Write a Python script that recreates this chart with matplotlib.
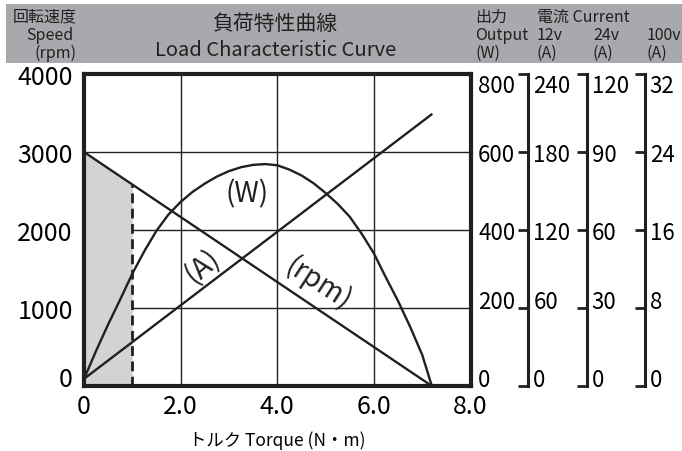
import numpy as np
import matplotlib.pyplot as plt
from matplotlib.patches import Rectangle

plt.rcParams['font.family'] = ['Noto Sans CJK JP', 'DejaVu Sans']

W, H = 682, 452

# x axis (torque, N·m)
torque_ticks = [0, 2, 4, 6, 8]
torque_labels = ['0', '2.0', '4.0', '6.0', '8.0']

# speed line (rpm)
speed_torque = [0.0, 7.2]
speed_rpm = [3000, 0]
speed_ticks = [0, 1000, 2000, 3000, 4000]

# current line, 12v amps
current_torque = [0.0, 7.19]
current_12v = [5.5, 208.8]

# output curve (W)
output_torque = [0.0, 0.25, 0.5, 0.75, 1.0, 1.25, 1.5, 1.75, 2.0, 2.25, 2.5, 2.75,
                 3.0, 3.25, 3.5, 3.75, 4.0, 4.25, 4.5, 4.75, 5.0, 5.25, 5.5, 5.75,
                 6.0, 6.25, 6.5, 6.75, 7.0, 7.2]
output_w = [18, 90, 158, 222, 288, 346, 398, 440, 472, 498, 519, 537,
            551, 561, 567, 569, 566, 555, 540, 520, 495, 467, 434, 390,
            340, 278, 218, 152, 80, 0]

# right hand scales
output_ticks = [0, 200, 400, 600, 800]
cur12_ticks = [0, 60, 120, 180, 240]
cur24_ticks = [0, 30, 60, 90, 120]
cur100_ticks = [0, 8, 16, 24, 32]

rated_torque = 1.0

rpm_per_w = 4000 / 800
rpm_per_a12 = 4000 / 240


def px(x, y):
    return x / W, 1 - y / H


fig = plt.figure(figsize=(W / 100, H / 100), dpi=100)
ax = fig.add_axes([84 / W, 1 - 387 / H, 386.5 / W, 312 / H])

# grey header band
fig.patches.append(Rectangle(px(6, 64), 676 / W, 59 / H, transform=fig.transFigure,
                             facecolor='#a7a9ac', edgecolor='none', zorder=0))

ax.set_xlim(0, 8)
ax.set_ylim(0, 4000)
ax.set_xticks(torque_ticks)
ax.set_xticklabels(torque_labels)
ax.set_yticks(speed_ticks)
ax.grid(True, color='#222222', lw=1.0)
ax.set_axisbelow(True)
ax.tick_params(length=0, labelsize=18, pad=5)
ax.tick_params(axis='y', pad=8)
for s in ax.spines.values():
    s.set_linewidth(3)
    s.set_color('#231f20')
ax.get_yticklabels()[0].set_va('baseline')

# rated torque region
t_fill = np.array([0.0, rated_torque])
rpm_fill = np.interp(t_fill, speed_torque, speed_rpm)
ax.fill_between(t_fill, 0, rpm_fill, color='#d1d3d4', lw=0, zorder=1)
ax.plot([rated_torque, rated_torque], [0, rpm_fill[1]], color='#231f20', lw=2,
        dashes=(3.5, 2), zorder=3)

lc = '#231f20'
ax.plot(speed_torque, speed_rpm, color=lc, lw=1.7, zorder=4)
ax.plot(current_torque, np.array(current_12v) * rpm_per_a12, color=lc, lw=1.7, zorder=4)
ax.plot(output_torque, np.array(output_w) * rpm_per_w, color=lc, lw=1.7, zorder=4,
        solid_joinstyle='round')

ax.text(3.38, 2470, '(W)', fontsize=20, ha='center', va='center', color=lc)
ax.text(2.45, 1540, '(A)', fontsize=20.5, ha='center', va='center', rotation=40, color=lc)
ax.text(4.85, 1320, '(rpm)', fontsize=20, ha='center', va='center', rotation=-33, color=lc)

ax.set_xlabel('トルク Torque (N・m)', fontsize=12.5, labelpad=8)


def side_axis(pos, ticks, tick_len, lw, pad):
    a = ax.twinx()
    a.set_ylim(ticks[0], ticks[-1])
    a.set_yticks(ticks)
    for k in ['left', 'top', 'bottom']:
        a.spines[k].set_visible(False)
    a.spines['right'].set_position(('axes', pos))
    a.spines['right'].set_linewidth(lw)
    a.spines['right'].set_color('#231f20')
    if tick_len == 0:
        a.spines['right'].set_visible(False)
    a.tick_params(axis='y', direction='in', length=tick_len, width=2,
                  color='#231f20', labelsize=16, pad=pad)
    labs = a.get_yticklabels()
    labs[0].set_va('baseline')
    labs[1].set_va('baseline')
    labs[-1].set_va('top')
    return a


side_axis(1.0, output_ticks, 0, 3, 5.5)
side_axis(1.150, cur12_ticks, 7.5, 2.2, 3.5)
side_axis(1.3005, cur24_ticks, 7.5, 2.2, 3.5)
side_axis(1.4508, cur100_ticks, 7.5, 2.2, 3.5)

# header texts
hc = '#231f20'
fig.text(*px(77, 17), '回転速度', fontsize=11.5, ha='right', va='center', color=hc)
fig.text(*px(74, 35), 'Speed', fontsize=11.5, ha='right', va='center', color=hc)
fig.text(*px(77, 53), '(rpm)', fontsize=11.5, ha='right', va='center', color=hc)
fig.text(*px(276, 24), '負荷特性曲線', fontsize=15, ha='center', va='center', color=hc)
fig.text(*px(276, 51), 'Load Characteristic Curve', fontsize=14.5, ha='center', va='center', color=hc)

fig.text(*px(475, 17), '出力', fontsize=11.5, ha='left', va='center', color=hc)
fig.text(*px(475, 35), 'Output', fontsize=11.5, ha='left', va='center', color=hc)
fig.text(*px(475, 53), '(W)', fontsize=11.5, ha='left', va='center', color=hc)
fig.text(*px(537, 17), '電流 Current', fontsize=11.5, ha='left', va='center', color=hc)
for x0, v in [(537, '12v'), (593, '24v'), (647, '100v')]:
    fig.text(*px(x0, 35), v, fontsize=11.5, ha='left', va='center', color=hc)
    fig.text(*px(x0, 53), '(A)', fontsize=11.5, ha='left', va='center', color=hc)

fig.savefig('out.png', dpi=100)
